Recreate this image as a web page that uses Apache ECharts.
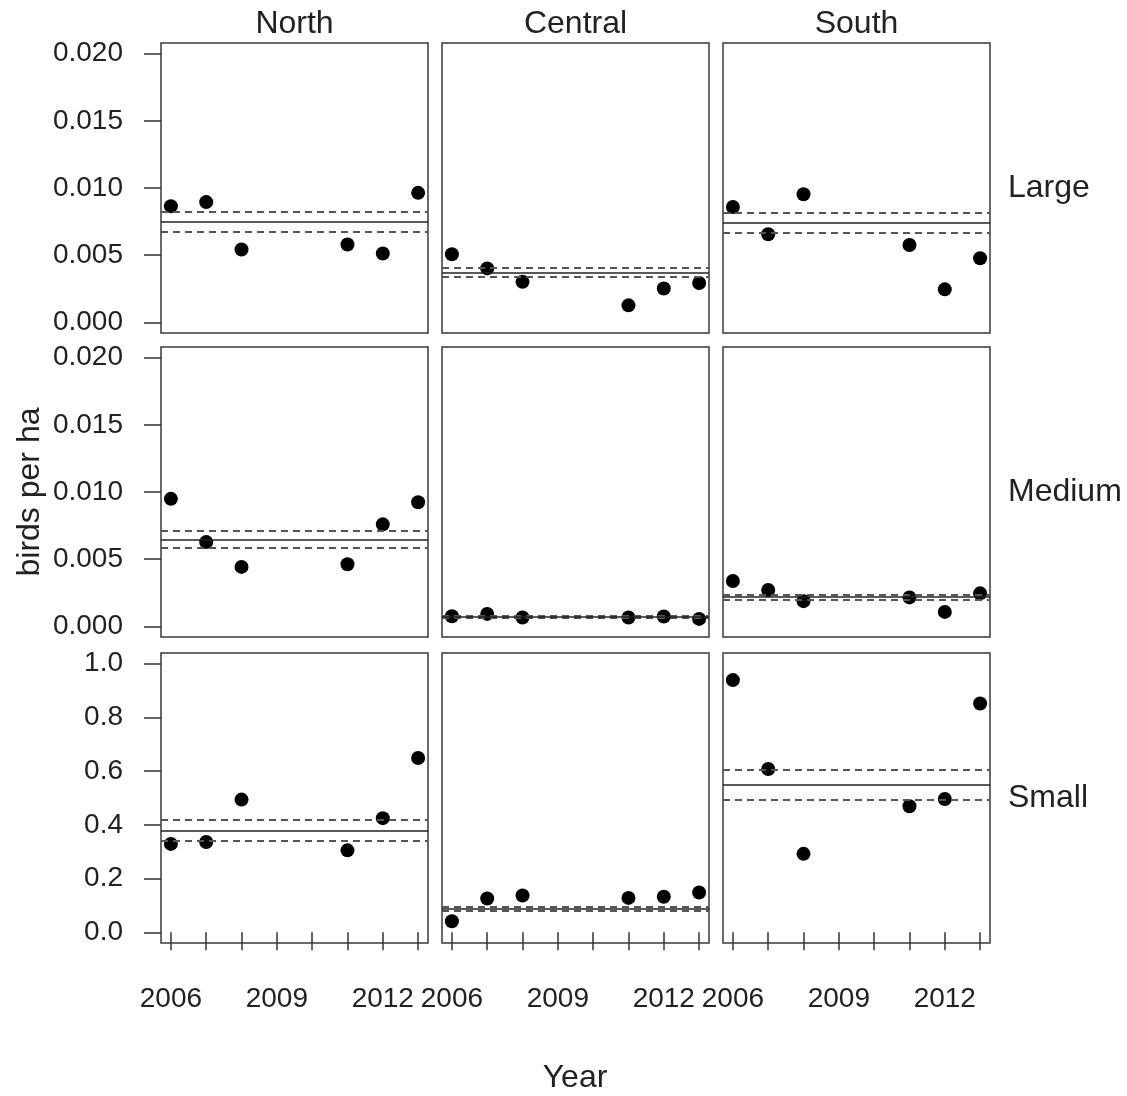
<!DOCTYPE html>
<html>
<head>
<meta charset="utf-8">
<script src="https://cdn.jsdelivr.net/npm/echarts@6/dist/echarts.min.js"></script>
<style>
  html, body { margin: 0; padding: 0; background: #fff; }
  #chart { width: 1127px; height: 1096px; }
</style>
</head>
<body>
<div id="chart"></div>
<script>
// birds per ha by region (columns) and size class (rows)
const regions = ['North', 'Central', 'South'];
const sizes = ['Large', 'Medium', 'Small'];
const years = [2006, 2007, 2008, 2011, 2012, 2013];

const largeNorth = [0.00865, 0.00895, 0.00542, 0.00579, 0.00512, 0.00964];
const largeCentral = [0.00507, 0.00401, 0.00301, 0.00126, 0.00252, 0.00292];
const largeSouth = [0.00858, 0.00655, 0.00954, 0.00576, 0.00245, 0.00477];
const mediumNorth = [0.00949, 0.00627, 0.00442, 0.00462, 0.00759, 0.00924];
const mediumCentral = [0.00075, 0.00092, 0.00065, 0.00065, 0.00073, 0.00055];
const mediumSouth = [0.00337, 0.0027, 0.00187, 0.00215, 0.00107, 0.00245];
const smallNorth = [0.329, 0.336, 0.494, 0.305, 0.425, 0.649];
const smallCentral = [0.041, 0.126, 0.137, 0.128, 0.132, 0.148];
const smallSouth = [0.939, 0.608, 0.292, 0.469, 0.496, 0.852];

// [lower, mean, upper]
const largeBands = [[0.00677, 0.00749, 0.00823], [0.00336, 0.00368, 0.00405], [0.00668, 0.00742, 0.00816]];
const mediumBands = [[0.00582, 0.00642, 0.00709], [0.00062, 0.0007, 0.00078], [0.00198, 0.00218, 0.00233]];
const smallBands = [[0.341, 0.378, 0.418], [0.079, 0.086, 0.094], [0.495, 0.548, 0.605]];

const xTicks = [2006, 2007, 2008, 2009, 2010, 2011, 2012, 2013];
const xLabels = [2006, 2009, 2012];
const yTicksDensity = [0, 0.005, 0.01, 0.015, 0.02];
const yTicksSmall = [0, 0.2, 0.4, 0.6, 0.8, 1.0];

const values = [
  [largeNorth, largeCentral, largeSouth],
  [mediumNorth, mediumCentral, mediumSouth],
  [smallNorth, smallCentral, smallSouth]
];
const bands = [largeBands, mediumBands, smallBands];
const yTicks = [yTicksDensity, yTicksDensity, yTicksSmall];
const yDigits = [3, 3, 1];

const FONT = 'Liberation Sans, Arial, sans-serif';
const TXT = '#222';
const colLeft = [161, 442, 723];
const rowTop = [43, 347, 653];
const panelW = 267, panelH = 290;

// R style 4% extension
function ext(arr) {
  const lo = arr[0], hi = arr[arr.length - 1], d = (hi - lo) * 0.04;
  return [lo - d, hi + d];
}

const grid = [], xAxis = [], yAxis = [], series = [];
let k = 0;
for (let r = 0; r < 3; r++) {
  for (let c = 0; c < 3; c++) {
    grid.push({
      left: colLeft[c], top: rowTop[r], width: panelW, height: panelH,
      show: true, borderColor: '#3a3a3a', borderWidth: 1.5, backgroundColor: 'transparent'
    });
    const xr = ext(xTicks);
    xAxis.push({
      type: 'value', gridIndex: k, min: xr[0], max: xr[1],
      axisLine: { show: false },
      splitLine: { show: false },
      axisTick: { show: r === 2, length: 18, lineStyle: { color: '#333', width: 1.5 }, customValues: xTicks },
      axisLabel: {
        show: r === 2, margin: 42, customValues: xLabels,
        fontFamily: FONT, fontSize: 28, color: TXT,
        formatter: v => String(Math.round(v))
      }
    });
    const yr = ext(yTicks[r]);
    const dg = yDigits[r];
    yAxis.push({
      type: 'value', gridIndex: k, min: yr[0], max: yr[1],
      axisLine: { show: false },
      splitLine: { show: false },
      axisTick: { show: c === 0, length: 17, lineStyle: { color: '#333', width: 1.5 }, customValues: yTicks[r] },
      axisLabel: {
        show: c === 0, margin: 38, customValues: yTicks[r],
        fontFamily: FONT, fontSize: 28, color: TXT,
        formatter: v => v.toFixed(dg)
      }
    });
    const b = bands[r][c];
    series.push({
      type: 'scatter', xAxisIndex: k, yAxisIndex: k,
      symbol: 'circle', symbolSize: 14,
      itemStyle: { color: '#000', opacity: 1 },
      data: years.map((y, i) => [y, values[r][c][i]]),
      markLine: {
        silent: true, symbol: 'none', animation: false, precision: 8,
        label: { show: false },
        data: [
          { yAxis: b[0], lineStyle: { color: '#555', width: 2, type: [7, 5] } },
          { yAxis: b[2], lineStyle: { color: '#555', width: 2, type: [7, 5] } },
          { yAxis: b[1], lineStyle: { color: '#222', width: 1.5, type: 'solid' } }
        ]
      },
      z: 3
    });
    k++;
  }
}

const graphic = [];
regions.forEach((name, c) => {
  graphic.push({
    type: 'text', x: colLeft[c] + panelW / 2, y: 24,
    style: { text: name, font: '32px ' + FONT, fill: TXT, textAlign: 'center', textVerticalAlign: 'middle' }
  });
});
sizes.forEach((name, r) => {
  graphic.push({
    type: 'text', x: 1008, y: rowTop[r] + panelH / 2,
    style: { text: name, font: '32px ' + FONT, fill: TXT, textAlign: 'left', textVerticalAlign: 'middle' }
  });
});
graphic.push({
  type: 'text', x: 30, y: 492, rotation: Math.PI / 2,
  style: { text: 'birds per ha', font: '32px ' + FONT, fill: TXT, textAlign: 'center', textVerticalAlign: 'middle' }
});
graphic.push({
  type: 'text', x: 575, y: 1078,
  style: { text: 'Year', font: '32px ' + FONT, fill: TXT, textAlign: 'center', textVerticalAlign: 'middle' }
});

const chart = echarts.init(document.getElementById('chart'));
chart.setOption({
  backgroundColor: '#fff',
  animation: false,
  grid: grid,
  xAxis: xAxis,
  yAxis: yAxis,
  series: series,
  graphic: graphic
});
</script>
</body>
</html>
